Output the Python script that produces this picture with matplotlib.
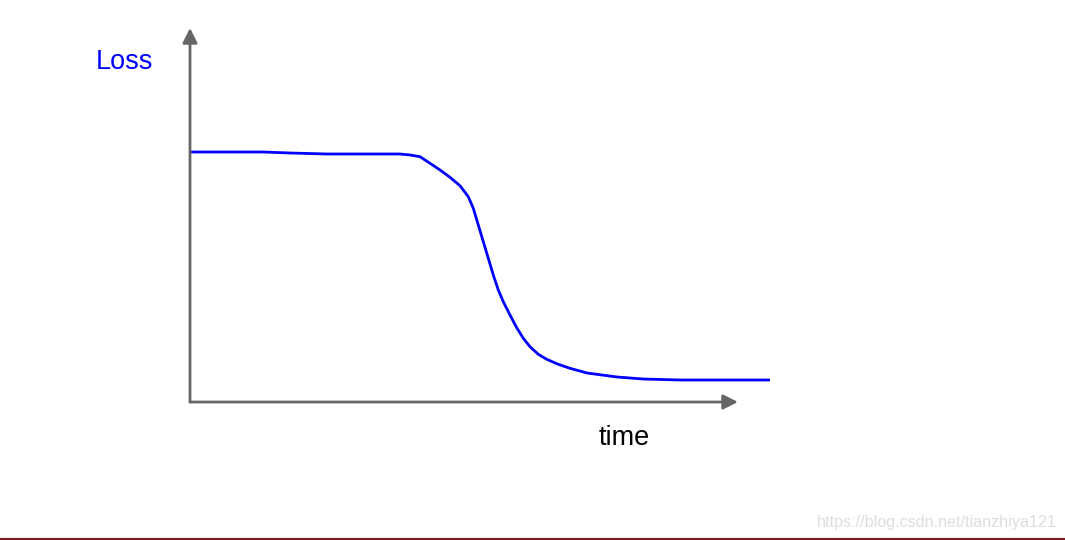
import matplotlib.pyplot as plt
import numpy as np

plt.rcParams['font.family'] = ['Liberation Sans', 'DejaVu Sans']

##  Curva de loss (unidades arbitrarias)
time = [0, 7.3, 10.0, 13.7, 17.0, 21.0, 22.0, 23.0, 24.0, 25.0, 26.0, 27.0,
        27.83, 28.33, 28.83, 29.33, 29.83, 30.33, 30.83, 31.33, 32.0, 32.67,
        33.33, 34.0, 34.83, 35.67, 36.83, 38.0, 39.7, 42.7, 45.3, 49.0, 58.0]
loss = [25.0, 25.0, 24.9, 24.8, 24.8, 24.8, 24.7, 24.53, 23.87, 23.2, 22.47,
        21.63, 20.53, 19.37, 17.7, 16.03, 14.37, 12.7, 11.2, 10.03, 8.7, 7.43,
        6.37, 5.53, 4.77, 4.27, 3.77, 3.37, 2.9, 2.5, 2.3, 2.2, 2.2]

axis_len_x = 54.8
axis_len_y = 37.4

fig = plt.figure(figsize=(10.65, 5.4), dpi=100)
ax = fig.add_axes([0, 0, 1, 1])
ax.set_xlim(-19, 87.5)
ax.set_ylim(-13.8, 40.2)
ax.axis('off')

gray = '#666666'
arrow = dict(arrowstyle='-|>', color=gray, lw=2, mutation_scale=22,
             shrinkA=0, shrinkB=0)
ax.annotate('', xy=(axis_len_x, 0), xytext=(0, 0), arrowprops=arrow)
ax.annotate('', xy=(0, axis_len_y), xytext=(0, 0), arrowprops=arrow)

ax.plot(time, loss, color='#0000ff', lw=2, solid_capstyle='butt',
        solid_joinstyle='round')

ax.text(-6.6, 34.0, 'Loss', color='#0000ff', fontsize=19.5, ha='center', va='center')
ax.text(43.4, -3.6, 'time', color='black', fontsize=19.5, ha='center', va='center')

ax.text(86.7, -12.0, 'https://blog.csdn.net/tianzhiya121', color='#dddddd',
        fontsize=11.6, ha='right', va='center')

ax.axhline(-13.72, color='#7a1c1c', lw=1.5)

fig.savefig('out.png', dpi=100, facecolor='white')
